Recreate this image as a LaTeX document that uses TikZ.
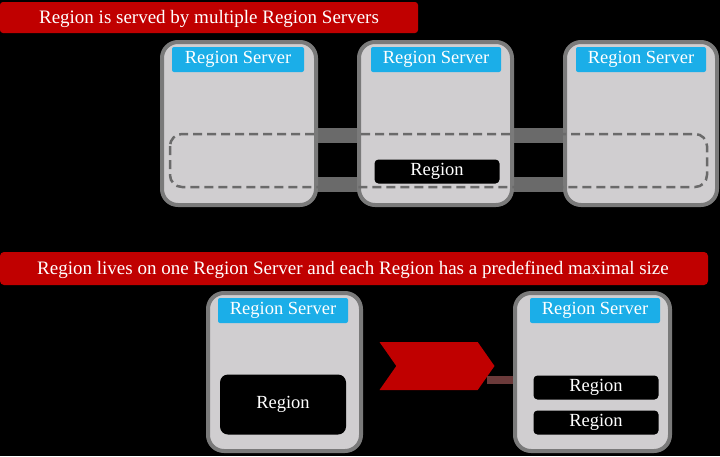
\documentclass[tikz,border=0pt]{standalone}
\usepackage{fontspec}
\setmainfont{Liberation Serif}
\usetikzlibrary{shapes.symbols}
\definecolor{banred}{HTML}{C00000}
\definecolor{rscyan}{HTML}{1BAEE8}
\definecolor{boxfill}{HTML}{D0CED0}
\definecolor{boxedge}{HTML}{7A7A7A}
\definecolor{barcol}{HTML}{6A6A6A}
\definecolor{linkbrown}{HTML}{6B3A3A}
\tikzset{
  x=1pt,y=-1pt,
  bantext/.style={text=white, font=\fontsize{19}{22}\selectfont},
  server/.style={fill=boxfill, draw=boxedge, line width=4pt, rounded corners=16pt},
  rslabel/.style={fill=rscyan, draw=none, rounded corners=2pt, text=white, font=\fontsize{18.5}{21}\selectfont, inner sep=0pt},
  regionbox/.style={fill=black, draw=none, rounded corners=4pt, text=white, font=\fontsize{18.5}{21}\selectfont, inner sep=0pt},
  spanbox/.style={draw=barcol, line width=2.5pt, dash pattern=on 9pt off 5pt, rounded corners=12pt},
  bar/.style={fill=barcol, draw=none},
}
\begin{document}
\begin{tikzpicture}
\fill[black] (0,0) rectangle (720,456);
\useasboundingbox (0,0) rectangle (720,456);
% banner 1
\fill[banred, rounded corners=3pt] (0,2) rectangle (418,33);
\node[bantext] (b1) at (209,18.5) {Region is served by multiple Region Servers};
% bars between top servers
\fill[bar] (314,128) rectangle (362,143);
\fill[bar] (314,177) rectangle (362,192);
\fill[bar] (510,128) rectangle (567,143);
\fill[bar] (510,177) rectangle (567,192);
% top servers
\draw[server] (162,42) rectangle (316,205);
\draw[server] (359,42) rectangle (512,205);
\draw[server] (565,42) rectangle (717,205);
\node[rslabel, minimum width=132pt, minimum height=25pt] (rs1) at (238,59.5) {Region Server};
\node[rslabel, minimum width=130pt, minimum height=25pt] (rs2) at (436,59.5) {Region Server};
\node[rslabel, minimum width=130pt, minimum height=25pt] (rs3) at (641,59.5) {Region Server};
\node[regionbox, minimum width=125pt, minimum height=24pt] (r0) at (437,171.5) {Region};
\draw[spanbox] (170,134) rectangle (707,187);
% banner 2
\fill[banred, rounded corners=4pt] (0,252) rectangle (708,285);
\node[bantext] (b2) at (353,269.5) {Region lives on one Region Server and each Region has a predefined maximal size};
% bottom servers
\draw[server] (208,293) rectangle (361,451);
\draw[server] (515,293) rectangle (670,451);
\node[rslabel, minimum width=130pt, minimum height=25pt] (rs4) at (283,310.5) {Region Server};
\node[rslabel, minimum width=130pt, minimum height=25pt] (rs5) at (595,310.5) {Region Server};
\node[regionbox, minimum width=126pt, minimum height=60pt, rounded corners=8pt] (rbig) at (283,404.5) {Region};
\node[regionbox, minimum width=125pt, minimum height=24pt] (ra) at (596,387.5) {Region};
\node[regionbox, minimum width=125pt, minimum height=24pt] (rb) at (596,422.5) {Region};
% arrow
\node[signal, signal to=east, signal from=west, fill=banred, draw=none, minimum width=115pt, minimum height=48pt, signal pointer angle=110, inner sep=0pt] (arr) at (437,366) {};
\draw[linkbrown, line width=8pt] (arr.east |- 0,380) ++(-8,0) coordinate (c1) -- (513,380) coordinate (c2);
\end{tikzpicture}
\end{document}
